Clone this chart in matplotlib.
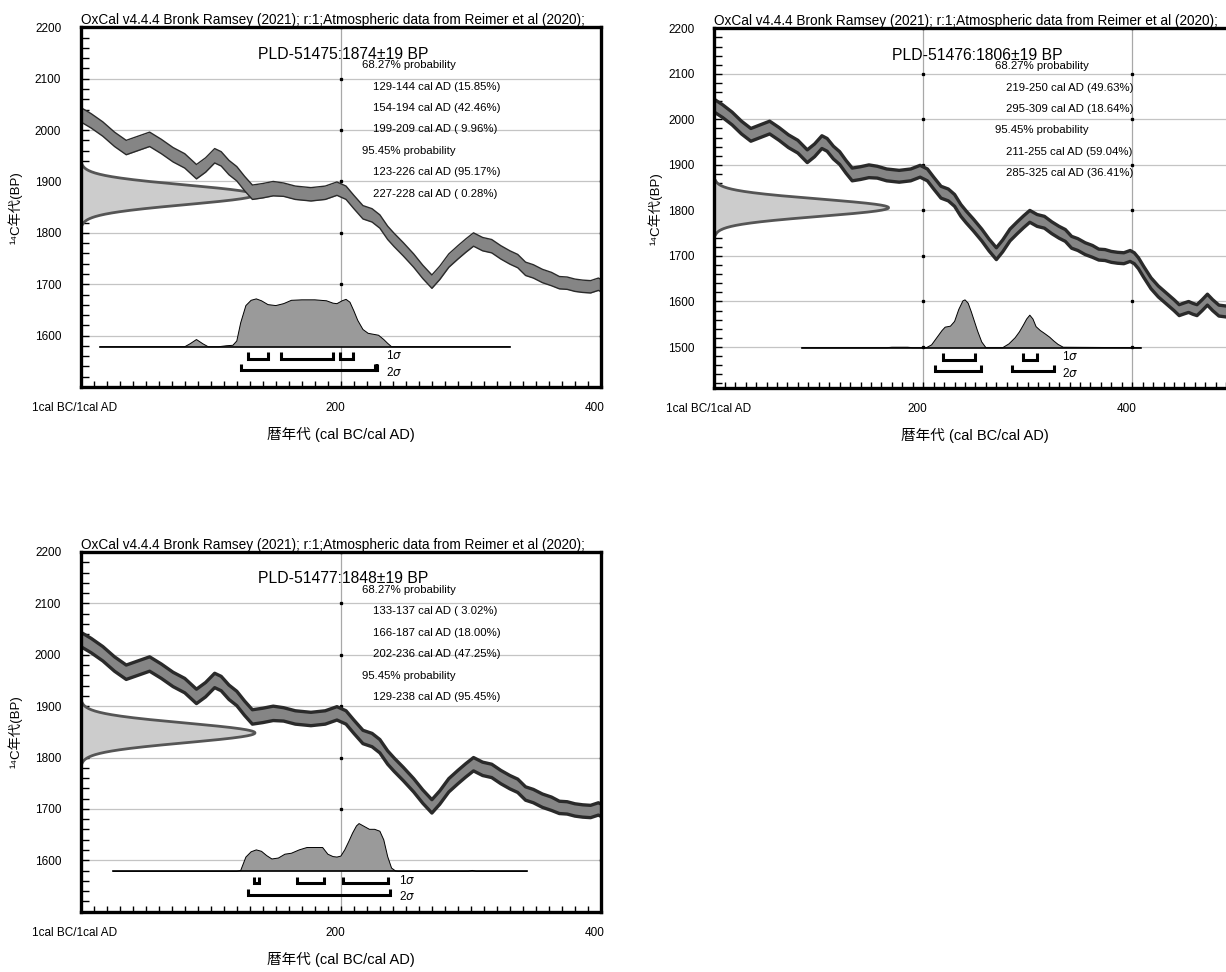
import numpy as np
import matplotlib
matplotlib.use("Agg")
import matplotlib.pyplot as plt
from matplotlib.ticker import MultipleLocator
from matplotlib.transforms import ScaledTranslation

plt.rcParams['font.family'] = ['Liberation Sans', 'Noto Sans CJK JP', 'DejaVu Sans']
plt.rcParams['mathtext.fontset'] = 'dejavusans'

# IntCal20 calibration curve (cal AD, 14C BP, 1 sigma)
cal_year = [0, 8, 17, 26, 35, 44, 53, 62, 71, 80, 89, 96, 103, 108, 114, 120, 126, 132,
            140, 148, 156, 165, 177, 188, 197, 204, 210, 217, 224, 230, 236, 241, 248,
            256, 263, 270, 276, 283, 290, 296, 302, 309, 316, 323, 330, 336, 342, 348,
            355, 362, 368, 374, 380, 386, 392, 398, 402, 406, 411, 418, 425, 433, 440,
            445, 450, 454, 458, 462, 467, 472, 477, 483, 490, 500]
cal_bp = [2030, 2018, 2002, 1982, 1966, 1974, 1982, 1968, 1952, 1940, 1919, 1932, 1950,
          1944, 1927, 1915, 1896, 1879, 1882, 1886, 1884, 1878, 1875, 1878, 1886, 1878,
          1860, 1840, 1834, 1822, 1800, 1786, 1768, 1746, 1724, 1705, 1722, 1746, 1762,
          1775, 1787, 1778, 1774, 1762, 1752, 1745, 1730, 1725, 1716, 1710, 1703, 1702,
          1698, 1696, 1695, 1700, 1695, 1684, 1665, 1640, 1622, 1606, 1592, 1581, 1585,
          1588, 1584, 1581, 1592, 1604, 1592, 1580, 1578, 1577]
cal_err = [14] * 20 + [13] * 30 + [12] * 24

# samples
names = ['PLD-51475', 'PLD-51476', 'PLD-51477']
c14_age = [1874, 1806, 1848]
c14_err = [19, 19, 19]

# calibrated probability distributions (relative height)
post1_year = [15, 80, 84, 89, 94, 98, 106, 112, 117, 120, 123, 127, 131, 135, 139, 144,
              150, 156, 162, 170, 180, 189, 194, 197, 201, 204, 207, 210, 213, 217, 221,
              225, 229, 233, 236, 239, 330]
post1_rel = [0, 0, 0.06, 0.15, 0.06, 0, 0, 0.02, 0.03, 0.12, 0.5, 0.86, 0.97, 1.0, 0.96,
             0.88, 0.86, 0.9, 0.97, 0.98, 0.98, 0.96, 0.91, 0.9, 0.96, 0.99, 0.93, 0.75,
             0.55, 0.36, 0.28, 0.26, 0.24, 0.15, 0.07, 0.0, 0]
post2_year = [84, 165, 170, 177, 185, 190, 203, 208, 214, 218, 221, 226, 230, 234, 238,
              240, 243, 246, 249, 252, 256, 260, 276, 282, 288, 292, 296, 299, 302, 305,
              308, 312, 316, 321, 325, 329, 334, 408]
post2_rel = [0, 0, 0.01, 0.01, 0.01, 0, 0, 0.06, 0.24, 0.36, 0.43, 0.45, 0.55, 0.8, 0.98,
             1.0, 0.93, 0.75, 0.55, 0.35, 0.12, 0, 0, 0.08, 0.21, 0.33, 0.48, 0.6, 0.68,
             0.6, 0.44, 0.36, 0.3, 0.22, 0.14, 0.07, 0.01, 0]
post3_year = [25, 120, 123, 127, 131, 135, 139, 143, 147, 152, 157, 162, 168, 174, 180,
              186, 190, 194, 197, 200, 203, 206, 209, 212, 214, 218, 222, 226, 230, 233,
              236, 239, 242, 244, 298, 301, 304, 343]
post3_rel = [0, 0, 0.02, 0.3, 0.41, 0.45, 0.42, 0.33, 0.26, 0.28, 0.36, 0.38, 0.45, 0.5,
             0.5, 0.5, 0.36, 0.31, 0.3, 0.32, 0.45, 0.62, 0.8, 0.95, 1.0, 0.94, 0.88, 0.88,
             0.84, 0.66, 0.31, 0.07, 0.01, 0, 0, 0.02, 0, 0]

# ranges
s1_1 = [(129, 144), (154, 194), (199, 209)]
s2_1 = [(123, 226), (227, 228)]
s1_2 = [(219, 250), (295, 309)]
s2_2 = [(211, 255), (285, 325)]
s1_3 = [(133, 137), (166, 187), (202, 236)]
s2_3 = [(129, 238)]

txt1_1 = ['129-144 cal AD (15.85%)', '154-194 cal AD (42.46%)', '199-209 cal AD ( 9.96%)']
txt2_1 = ['123-226 cal AD (95.17%)', '227-228 cal AD ( 0.28%)']
txt1_2 = ['219-250 cal AD (49.63%)', '295-309 cal AD (18.64%)']
txt2_2 = ['211-255 cal AD (59.04%)', '285-325 cal AD (36.41%)']
txt1_3 = ['133-137 cal AD ( 3.02%)', '166-187 cal AD (18.00%)', '202-236 cal AD (47.25%)']
txt2_3 = ['129-238 cal AD (95.45%)']

title = 'OxCal v4.4.4 Bronk Ramsey (2021); r:1;Atmospheric data from Reimer et al (2020);'


def draw_panel(ax, xlim, ylim, name, age, err, p_year, p_rel, s1, s2, t1, t2, band_lw):
    x0, x1 = xlim
    y0, y1 = ylim
    xr = x1 - x0
    yr = y1 - y0
    ax.set_xlim(x0, x1)
    ax.set_ylim(y0, y1)

    # measured date (normal distribution on the y axis)
    yy = np.linspace(age - 3.1 * err, age + 3.1 * err, 300)
    dens = np.exp(-0.5 * ((yy - age) / err) ** 2)
    xx = x0 + 0.335 * xr * dens
    ax.fill_betweenx(yy, x0, xx, color='#cccccc', lw=0, zorder=2)
    ax.plot(xx, yy, color='#555555', lw=2, zorder=2.1)

    # calibration curve band
    m = np.array(cal_bp)
    s = np.array(cal_err)
    ax.fill_between(cal_year, m - s, m + s, color='#858585', lw=0, zorder=3)
    ax.plot(cal_year, m + s, color='#2a2a2a', lw=band_lw, zorder=3.1)
    ax.plot(cal_year, m - s, color='#2a2a2a', lw=band_lw, zorder=3.1)

    # calibrated distribution
    base = y0 + 0.112 * yr
    h = 0.133 * yr
    top = base + np.array(p_rel) * h
    ax.fill_between(p_year, base, top, facecolor='#9a9a9a', edgecolor='none', zorder=4)
    ax.plot(p_year, top, color='black', lw=0.7, zorder=4.1)
    ax.plot([p_year[0], p_year[-1]], [base, base], color='black', lw=1.2, zorder=4.2)

    # ranges
    tk = 0.017 * yr
    for ranges, yf in ((s1, 0.079), (s2, 0.046)):
        yb = y0 + yf * yr
        for a, b in ranges:
            ax.plot([a, a, b, b], [yb + tk, yb, yb, yb + tk], color='black', lw=2.2,
                    solid_joinstyle='miter', solid_capstyle='butt', zorder=5)
    xend = max(b for a, b in s2) + 0.016 * xr
    ax.text(xend, y0 + 0.087 * yr, '1$\\sigma$', fontsize=8.5, va='center', ha='left')
    ax.text(xend, y0 + 0.041 * yr, '2$\\sigma$', fontsize=8.5, va='center', ha='left')

    # texts
    ax.text(0.505, 0.925, f'{name}:{age}\u00b1{err} BP', transform=ax.transAxes,
            ha='center', va='center', fontsize=11.3)
    lines = [('68.27% probability', 0.540)] + [(t, 0.561) for t in t1] + \
            [('95.45% probability', 0.540)] + [(t, 0.561) for t in t2]
    for i, (t, xf) in enumerate(lines):
        ax.text(xf, 0.895 - i * 0.0597, t, transform=ax.transAxes, ha='left',
                va='center', fontsize=8.2)

    # axes styling
    yt = np.arange(np.ceil((y0 + 1) / 100) * 100, y1 + 1, 100)
    ax.set_yticks(yt)
    ax.yaxis.set_minor_locator(MultipleLocator(20))
    nx = int(xr // 200) + 1
    xt = [0, 200, 400, 600][:nx]
    ax.set_xticks(xt)
    ax.set_xticklabels(['1cal BC/1cal AD', '200', '400', '600'][:nx])
    ax.xaxis.set_minor_locator(MultipleLocator(10))
    ax.tick_params(axis='both', which='both', direction='in', width=1, top=False,
                   right=False, labelsize=8.5)
    ax.tick_params(axis='y', which='both', length=6, pad=14)
    ax.tick_params(axis='x', which='both', length=4.5, pad=11)
    off = ScaledTranslation(-6 / 100, 0, ax.figure.dpi_scale_trans)
    for lbl in ax.get_xticklabels():
        lbl.set_transform(lbl.get_transform() + off)
    ax.grid(True, which='major', axis='y', color='#c4c4c4', lw=0.9, zorder=1)
    ax.grid(True, which='major', axis='x', color='#a8a8a8', lw=0.9, zorder=1)
    ax.set_axisbelow(True)
    # small marks where the grid lines cross
    gx, gy = np.meshgrid(xt[1:], yt)
    ax.plot(gx.ravel(), gy.ravel(), ls='none', marker='s', ms=1.4, color='black',
            zorder=1.5)
    for sp in ax.spines.values():
        sp.set_linewidth(2.4)
        sp.set_zorder(6)
    ax.set_title(title, loc='left', fontsize=9.8, pad=2)
    ax.set_xlabel('暦年代 (cal BC/cal AD)', fontsize=10.5)
    ax.set_ylabel('\u00b9\u2074C年代(BP)', fontsize=9.5)
    ax.xaxis.label.set_va('center')
    ax.yaxis.label.set_va('center')
    ax.xaxis.set_label_coords(0.5, -0.133)
    ax.yaxis.set_label_coords(-0.126, 0.5)


fig = plt.figure(figsize=(12.26, 9.72), dpi=100)
W, H = 1226, 972
aw, ah = 520.3 / W, 359.7 / H
ax1 = fig.add_axes([80.7 / W, 1 - 387 / H, aw, ah])
ax2 = fig.add_axes([714.3 / W, 1 - 388 / H, aw, ah])
ax3 = fig.add_axes([80.7 / W, 1 - 911.7 / H, aw, ah])

draw_panel(ax1, (0, 400), (1500, 2200), names[0], c14_age[0], c14_err[0],
           post1_year, post1_rel, s1_1, s2_1, txt1_1, txt2_1, 1.0)
draw_panel(ax2, (0, 498), (1410, 2200), names[1], c14_age[1], c14_err[1],
           post2_year, post2_rel, s1_2, s2_2, txt1_2, txt2_2, 2.4)
draw_panel(ax3, (0, 400), (1500, 2200), names[2], c14_age[2], c14_err[2],
           post3_year, post3_rel, s1_3, s2_3, txt1_3, txt2_3, 2.4)
ax2.yaxis.set_label_coords(-0.114, 0.5)

fig.savefig('out.png', dpi=100)
